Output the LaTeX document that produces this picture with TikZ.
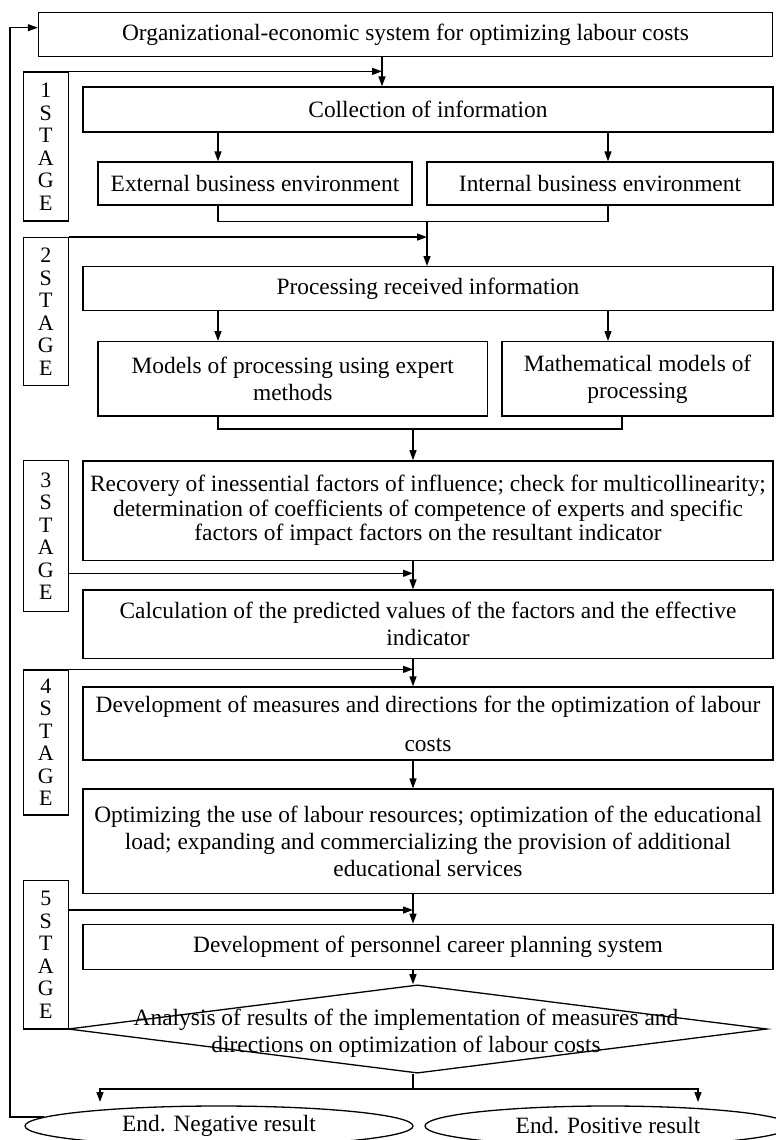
\documentclass[tikz,border=0pt]{standalone}
\usepackage{fontspec}
\setmainfont{Liberation Serif}
\usetikzlibrary{arrows.meta,shapes.geometric}

\begin{document}
\begin{tikzpicture}[x=1pt, y=-1pt,
  every node/.style={inner sep=0pt, align=center, font=\fontsize{23.4}{27}\selectfont},
  every path/.style={line width=1.3pt},
  box/.style={draw, rectangle},
  stagebox/.style={draw, rectangle, minimum width=45pt, font=\fontsize{22}{22.5}\selectfont},
  arr/.style={-{Triangle[length=10pt,width=7pt]}}]
\useasboundingbox (0,0) rectangle (776,1140);

% stage labels
\node[stagebox, minimum height=149pt] (s1) at (45.8,146.5) {1\\S\\T\\A\\G\\E};
\node[stagebox, minimum height=148pt] (s2) at (45.8,311.7) {2\\S\\T\\A\\G\\E};
\node[stagebox, minimum height=151pt] (s3) at (45.8,536.2) {3\\S\\T\\A\\G\\E};
\node[stagebox, minimum height=145pt] (s4) at (45.8,742.5) {4\\S\\T\\A\\G\\E};
\node[stagebox, minimum height=148.3pt] (s5) at (45.8,954.8) {5\\S\\T\\A\\G\\E};

% blocks
\node[box, minimum width=734pt, minimum height=44.5pt] (top) at (405.5,34.5) {Organizational-economic system for optimizing labour costs};
\node[box, minimum width=690pt, minimum height=45pt] (coll) at (428,109.5) {Collection of information};
\node[box, minimum width=314pt, minimum height=43pt] (ext) at (255,183.5) {External business environment};
\node[box, minimum width=346pt, minimum height=43pt] (int) at (600,183.5) {Internal business environment};
\node[box, minimum width=690pt, minimum height=44pt] (proc) at (428,288.7) {Processing received information};
\node[box, minimum width=389.6pt, minimum height=74.3pt] (mod) at (292.8,378.8) {Models of processing using expert\\methods};
\node[box, minimum width=271pt, minimum height=74.3pt] (math) at (637.5,378.8) {Mathematical models of\\processing};
\node[box, minimum width=690pt, minimum height=99.3pt, font=\fontsize{23.4}{24.5}\selectfont] (rec) at (428,510.5) {Recovery of inessential factors of influence; check for multicollinearity;\\determination of coefficients of competence of experts and specific\\factors of impact factors on the resultant indicator};
\node[box, minimum width=690pt, minimum height=68.3pt] (calc) at (428,624.2) {Calculation of the predicted values of the factors and the effective\\indicator};
\node[box, minimum width=690pt, minimum height=73pt] (devm) at (428,723.5) {Development of measures and directions for the optimization of labour\\[12pt]costs};
\node[box, minimum width=690pt, minimum height=104.3pt] (opt) at (428,841.2) {Optimizing the use of labour resources; optimization of the educational\\load; expanding and commercializing the provision of additional\\educational services};
\node[box, minimum width=690pt, minimum height=45pt] (car) at (428,946.8) {Development of personnel career planning system};
\node[draw, diamond, minimum width=699pt, minimum height=88.3pt] (anl) at (417.5,1029) {};
\node (anltxt) at (406,1033) {Analysis of results of the implementation of measures and\\directions on optimization of labour costs};
\node[draw, ellipse, minimum width=388pt, minimum height=40pt] (neg) at (219,1126) {End. Negative result};
\node[draw, ellipse, minimum width=366pt, minimum height=40pt] (pos) at (608,1126) {End. Positive result};

% junction points
\coordinate (c0) at (382,0);
\coordinate (c1) at (218,0);
\coordinate (c2) at (608,0);
\coordinate (c4) at (622,0);
\coordinate (j1) at (427,221.7);
\coordinate (j2) at (413,429);
\coordinate (j3) at (413,573.3);
\coordinate (j5) at (413,910);
\coordinate (sp) at (413,1089);
\coordinate (nl) at (100,1102);
\coordinate (pl) at (698,1102);
\coordinate (fb) at (10,27.7);

% connectors
\draw[arr] (top.south -| c0) -- (coll.north -| c0);
\draw[arr] (s1.north east) -- (s1.north east -| c0);
\draw[arr] (coll.south -| c1) -- (ext.north -| c1);
\draw[arr] (coll.south -| c2) -- (int.north -| c2);
\draw (ext.south -| c1) |- (j1) -| (int.south -| c2);
\draw[arr] (j1) -- (proc.north -| j1);
\draw[arr] (s2.north east) -- (s2.north east -| j1);
\draw[arr] (proc.south -| c1) -- (mod.north -| c1);
\draw[arr] (proc.south -| c2) -- (math.north -| c2);
\draw (mod.south -| c1) |- (j2) -| (math.south -| c4);
\draw[arr] (j2) -- (rec.north -| j2);
\draw[arr] (rec.south -| j2) -- (calc.north -| j2);
\draw[arr] (s3.east |- j3) -- (j3);
\draw[arr] (calc.south -| j2) -- (devm.north -| j2);
\draw[arr] (s4.north east) -- (s4.north east -| j2);
\draw[arr] (devm.south -| j2) -- (opt.north -| j2);
\draw[arr] (opt.south -| j2) -- (car.north -| j2);
\draw[arr] (s5.east |- j5) -- (j5);
\draw[arr] (car.south -| j2) -- (anl.north -| j2);
\draw (anl.south -| sp) -- (sp);
\draw[arr] (sp) -| (nl);
\draw[arr] (sp) -| (pl);
\draw[arr] (neg.177) -| (fb) -- (fb -| top.west);
\end{tikzpicture}
\end{document}
